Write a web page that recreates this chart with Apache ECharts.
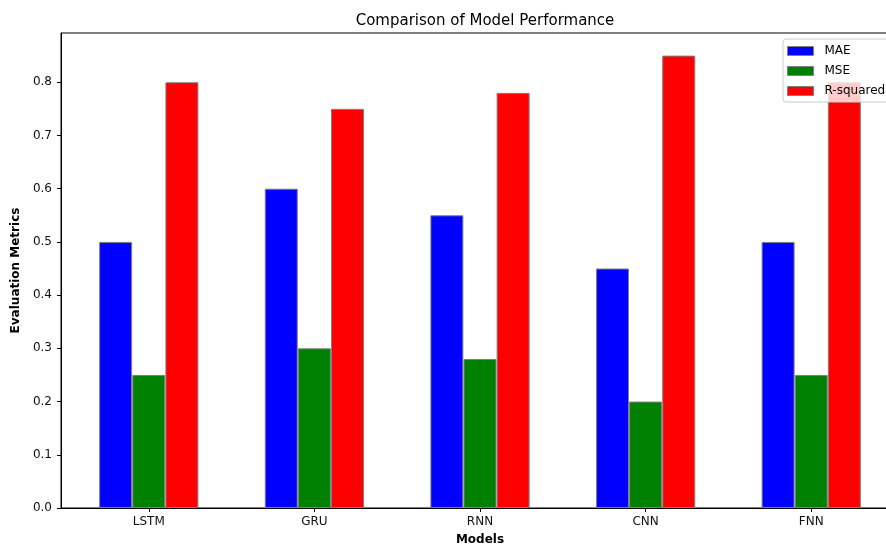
<!DOCTYPE html>
<html>
<head>
<meta charset="utf-8">
<script src="https://cdn.jsdelivr.net/npm/echarts@6/dist/echarts.min.js"></script>
<style>html,body{margin:0;padding:0;background:#fff;}#c{width:886px;height:545px;}</style>
</head>
<body>
<div id="c"></div>
<script>
var models = ['LSTM', 'GRU', 'RNN', 'CNN', 'FNN'];
var mae = [0.5, 0.6, 0.55, 0.45, 0.5];
var mse = [0.25, 0.3, 0.28, 0.2, 0.25];
var rsq = [0.8, 0.75, 0.78, 0.85, 0.8];
var yTicks = [0, 0.1, 0.2, 0.3, 0.4, 0.5, 0.6, 0.7, 0.8];
var xTicks = [0, 1, 2, 3, 4];
var barOffset = 0.2;

var FONT = 'DejaVu Sans';
var chart = echarts.init(document.getElementById('c'), null, {renderer: 'canvas'});

function mk(name, vals, off, color) {
  return {
    name: name, type: 'bar', barWidth: 33, barGap: '-100%',
    itemStyle: {color: color, borderColor: '#808080', borderWidth: 1},
    data: vals.map(function (v, i) { return [i + off, v]; }),
    z: 2
  };
}

chart.setOption({
  animation: false,
  textStyle: {fontFamily: FONT},
  title: {
    text: 'Comparison of Model Performance', left: 480, top: 9, textAlign: 'center',
    textStyle: {fontFamily: FONT, fontSize: 15, fontWeight: 'normal', color: '#000'}
  },
  legend: {
    orient: 'vertical', left: 783, top: 39,
    itemWidth: 26, itemHeight: 9, itemGap: 8,
    padding: [6, 8, 5, 4],
    backgroundColor: 'rgba(255,255,255,0.8)', borderColor: '#cccccc', borderWidth: 1, borderRadius: 3,
    textStyle: {fontFamily: FONT, fontSize: 12, color: '#000', padding: [0, 0, 0, 6]},
    icon: 'rect',
    itemStyle: {borderColor: '#808080', borderWidth: 1},
    data: ['MAE', 'MSE', 'R-squared'],
    z: 10
  },
  grid: {left: 61, top: 33, right: -13, bottom: 37, show: true, borderColor: '#000', borderWidth: 1,
    containLabel: false, outerBoundsMode: 'none'},
  xAxis: {
    type: 'value', min: -0.53, max: 4.53,
    name: 'Models', nameLocation: 'middle', nameGap: 26,
    nameTextStyle: {fontFamily: FONT, fontSize: 12, fontWeight: 'bold', color: '#000'},
    axisLine: {show: true, onZero: false, lineStyle: {color: '#000', width: 1}},
    axisTick: {show: true, length: 4, customValues: xTicks, lineStyle: {color: '#000'}},
    axisLabel: {customValues: xTicks, margin: 8, fontFamily: FONT, fontSize: 12, color: '#111',
      formatter: function (v) { return models[Math.round(v)] || ''; }},
    splitLine: {show: false}
  },
  yAxis: {
    type: 'value', min: 0, max: 0.8925,
    name: 'Evaluation Metrics', nameLocation: 'middle', nameGap: 35, nameRotate: 90,
    nameTextStyle: {fontFamily: FONT, fontSize: 12, fontWeight: 'bold', color: '#000'},
    axisLine: {show: true, onZero: false, lineStyle: {color: '#000', width: 1}},
    axisTick: {show: true, length: 4, customValues: yTicks, lineStyle: {color: '#000'}},
    axisLabel: {customValues: yTicks, margin: 9, fontFamily: FONT, fontSize: 12, color: '#111',
      formatter: function (v) { return v.toFixed(1); }},
    splitLine: {show: false}
  },
  series: [
    mk('MAE', mae, -barOffset, '#0000ff'),
    mk('MSE', mse, 0, '#008000'),
    mk('R-squared', rsq, barOffset, '#ff0000')
  ]
});
</script>
</body>
</html>
